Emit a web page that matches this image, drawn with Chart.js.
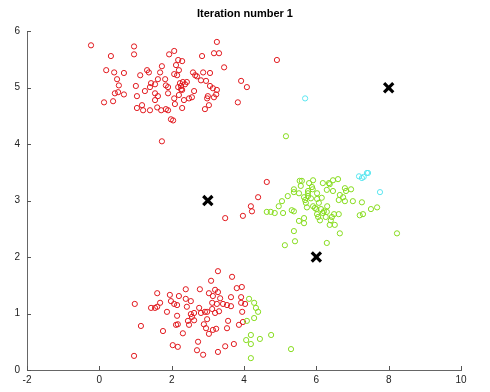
<!DOCTYPE html>
<html>
<head>
<meta charset="utf-8">
<script src="https://cdn.jsdelivr.net/npm/chart.js@4/dist/chart.umd.min.js"></script>
<style>
  html, body { margin: 0; padding: 0; background: #fff; }
  #wrap { width: 490px; height: 392px; }
</style>
</head>
<body>
<div id="wrap"><canvas id="kmeans"></canvas></div>
<script>
let xTicks = [-2, 0, 2, 4, 6, 8, 10];
let yTicks = [0, 1, 2, 3, 4, 5, 6];

let centroids = [[3, 3], [6, 2], [8, 5]];

let redPoints = [
  [-0.23,5.75],[0.96,5.73],[3.25,5.81],[0.32,5.56],[0.96,5.59],[1.93,5.59],[2.07,5.65],[3.17,5.61],
  [3.31,5.61],[2.84,5.56],[2.18,5.49],[2.29,5.47],[3.45,5.36],[1.73,5.38],[2.12,5.40],[0.19,5.31],
  [0.41,5.27],[0.68,5.26],[1.13,5.22],[1.32,5.31],[1.37,5.27],[1.68,5.27],[2.07,5.24],[2.20,5.31],
  [2.15,5.22],[2.59,5.27],[2.65,5.22],[2.70,5.20],[2.87,5.27],[3.06,5.26],[3.92,5.12],[4.08,5.01],
  [0.49,5.15],[0.54,5.04],[0.43,4.90],[0.52,4.92],[0.68,4.88],[0.13,4.74],[0.38,4.76],[1.01,5.03],
  [1.04,4.85],[1.18,4.69],[1.04,4.64],[1.21,4.60],[1.40,4.60],[1.26,4.94],[1.40,5.01],[1.43,5.08],
  [1.54,5.06],[1.62,5.15],[1.82,5.15],[1.84,5.04],[1.90,5.01],[1.54,4.90],[1.62,4.85],[1.54,4.78],
  [1.60,4.65],[1.71,4.60],[1.84,4.62],[1.90,4.60],[1.90,4.90],[2.07,4.81],[2.09,4.71],[2.29,4.64],
  [1.98,4.44],[2.04,4.42],[1.73,4.05],[2.18,5.01],[2.23,5.08],[2.31,5.10],[2.42,5.10],[2.29,4.96],
  [2.20,4.87],[2.34,4.78],[2.48,4.81],[2.56,4.83],[2.62,4.94],[2.81,5.13],[2.95,5.12],[3.06,5.03],
  [3.14,4.99],[3.25,4.96],[3.23,4.88],[3.17,4.83],[3.00,4.85],[2.98,4.81],[3.03,4.69],[2.92,4.62],
  [3.83,4.74],[2.26,5.03],[2.26,4.97],[2.37,5.06],[4.91,5.49],
  [4.63,3.33],[4.39,3.06],[4.19,2.90],[4.22,2.81],[3.97,2.73],[3.48,2.69],
  [3.28,1.75],[3.67,1.65],[3.09,1.58],[3.80,1.45],[3.94,1.47],[1.60,1.36],[1.95,1.33],[2.20,1.31],
  [2.39,1.43],[2.78,1.43],[3.03,1.36],[3.20,1.42],[3.28,1.38],[3.14,1.31],[3.34,1.27],[3.64,1.29],
  [3.92,1.29],[1.98,1.22],[2.07,1.17],[2.15,1.15],[2.39,1.26],[2.53,1.22],[0.98,1.17],[1.68,1.19],
  [1.60,1.12],[1.43,1.10],[1.54,1.10],[1.87,1.03],[2.42,1.12],[2.76,1.10],[3.12,1.19],[3.25,1.17],
  [3.42,1.17],[3.53,1.15],[3.64,1.13],[3.92,1.19],[4.03,1.17],[3.12,1.08],[3.31,1.04],[3.20,1.01],
  [2.92,1.03],[2.98,1.03],[2.62,1.01],[2.53,0.99],[2.81,1.01],[3.95,1.03],[2.15,0.96],[2.56,0.94],
  [2.62,0.88],[2.45,0.87],[2.98,0.90],[3.56,0.87],[3.97,0.85],[3.86,0.80],[1.15,0.78],[2.17,0.81],
  [2.12,0.80],[2.48,0.80],[2.89,0.81],[2.95,0.74],[1.76,0.69],[2.31,0.65],[3.14,0.71],[3.23,0.73],
  [3.03,0.64],[3.53,0.74],[2.73,0.50],[2.03,0.44],[2.17,0.41],[2.70,0.35],[3.28,0.32],[3.48,0.42],
  [3.72,0.46],[2.87,0.27],[0.96,0.25]
];

let greenPoints = [
  [5.21,3.08],[5.38,3.20],[5.38,3.15],[5.52,3.13],[5.54,3.35],[5.57,3.26],[5.60,3.35],[5.80,3.31],
  [5.91,3.36],[5.88,3.24],[6.18,3.31],[6.35,3.31],[6.37,3.29],[6.46,3.36],[6.60,3.38],[6.29,3.19],
  [6.46,3.17],[6.79,3.22],[6.82,3.17],[6.96,3.20],[6.65,3.10],[6.74,3.06],[6.62,3.01],[6.79,2.99],
  [7.01,2.99],[7.26,2.97],[5.66,3.06],[5.69,3.01],[5.77,3.13],[5.77,3.08],[5.85,3.04],[6.02,3.03],
  [6.02,3.13],[6.07,2.96],[5.05,2.99],[4.96,2.90],[5.08,2.78],[4.63,2.80],[4.74,2.80],[4.85,2.78],
  [5.32,2.83],[5.38,2.81],[5.74,2.88],[5.91,2.90],[5.96,2.87],[6.13,2.85],[6.21,2.81],[6.29,2.80],
  [6.18,2.78],[6.02,2.76],[6.05,2.71],[6.10,2.65],[6.26,2.71],[6.43,2.71],[6.49,2.76],[6.62,2.76],
  [6.40,2.65],[6.37,2.57],[6.51,2.57],[6.65,2.42],[6.29,2.25],[5.66,2.69],[5.52,2.64],[5.66,2.60],
  [5.38,2.46],[5.41,2.28],[5.13,2.21],[7.20,2.74],[7.29,2.76],[7.51,2.85],[7.68,2.88],[8.23,2.42],
  [5.71,2.96],[5.77,3.17],[6.00,2.85],[5.90,3.20],[6.15,3.05],[6.30,2.90],[5.16,4.14],
  [4.14,1.26],[4.28,1.19],[4.33,1.10],[4.39,1.03],[4.28,0.92],[4.08,0.87],[4.19,0.62],[4.06,0.53],
  [4.44,0.55],[4.75,0.62],[4.19,0.46],[5.30,0.37],[4.19,0.21]
];

let cyanPoints = [
  [5.69,4.81],[7.18,3.43],[7.26,3.40],[7.31,3.42],[7.40,3.49],[7.43,3.49],[7.76,3.15]
];

function toXY(list) {
  return list.map(p => ({ x: p[0], y: p[1] }));
}

// octave style ticks: short marks pointing into the plot
const innerTicks = {
  id: 'innerTicks',
  afterDraw(chart) {
    const ctx = chart.ctx;
    const area = chart.chartArea;
    const xs = chart.scales.x, ys = chart.scales.y;
    ctx.save();
    ctx.strokeStyle = '#555';
    ctx.lineWidth = 1;
    ctx.beginPath();
    xTicks.forEach(v => {
      const px = Math.round(xs.getPixelForValue(v)) + 0.5;
      ctx.moveTo(px, area.bottom);
      ctx.lineTo(px, area.bottom - 4);
    });
    yTicks.forEach(v => {
      const py = Math.round(ys.getPixelForValue(v)) + 0.5;
      ctx.moveTo(area.left, py);
      ctx.lineTo(area.left + 4, py);
    });
    ctx.stroke();
    ctx.restore();
  }
};

const circle = (color) => ({
  pointStyle: 'circle',
  pointRadius: 2.6,
  pointBorderWidth: 1,
  pointBorderColor: color,
  pointBackgroundColor: 'rgba(0,0,0,0)',
  showLine: false
});

new Chart(document.getElementById('kmeans'), {
  type: 'scatter',
  data: {
    datasets: [
      {
        label: 'centroids',
        data: toXY(centroids),
        pointStyle: 'crossRot',
        pointRadius: 6.5,
        pointBorderWidth: 3.2,
        pointBorderColor: '#000',
        showLine: false
      },
      Object.assign({ label: 'cyan', data: toXY(cyanPoints) }, circle('rgb(90,230,240)')),
      Object.assign({ label: 'green', data: toXY(greenPoints) }, circle('rgb(135,220,30)')),
      Object.assign({ label: 'red', data: toXY(redPoints) }, circle('rgb(225,25,30)'))
    ]
  },
  plugins: [innerTicks],
  options: {
    responsive: true,
    maintainAspectRatio: false,
    animation: false,
    events: [],
    layout: { padding: 0 },
    plugins: {
      legend: { display: false },
      tooltip: { enabled: false },
      title: {
        display: true,
        text: 'Iteration number 1',
        color: '#000',
        font: { family: 'Liberation Sans', size: 11, weight: 'bold' },
        padding: { top: 7, bottom: 11 }
      }
    },
    scales: {
      x: {
        type: 'linear',
        min: -2,
        max: 10,
        afterBuildTicks: s => { s.ticks = xTicks.map(v => ({ value: v })); },
        afterFit: s => { s.height = 22; },
        grid: { drawOnChartArea: false, drawTicks: false },
        border: { color: '#666', width: 1 },
        ticks: {
          padding: 4,
          color: '#222',
          font: { family: 'Liberation Sans', size: 10 },
          maxRotation: 0
        }
      },
      y: {
        type: 'linear',
        min: 0,
        max: 6,
        afterBuildTicks: s => { s.ticks = yTicks.map(v => ({ value: v })); },
        afterFit: s => { s.width = 27; },
        grid: { drawOnChartArea: false, drawTicks: false },
        border: { color: '#666', width: 1 },
        ticks: {
          padding: 7,
          color: '#222',
          font: { family: 'Liberation Sans', size: 10 }
        }
      },
      // empty margin on the right so the title stays centred on the page
      yRight: {
        type: 'linear',
        position: 'right',
        min: 0,
        max: 6,
        afterFit: s => { s.width = 29; },
        grid: { display: false },
        border: { display: false },
        ticks: { display: false }
      }
    }
  }
});
</script>
</body>
</html>
